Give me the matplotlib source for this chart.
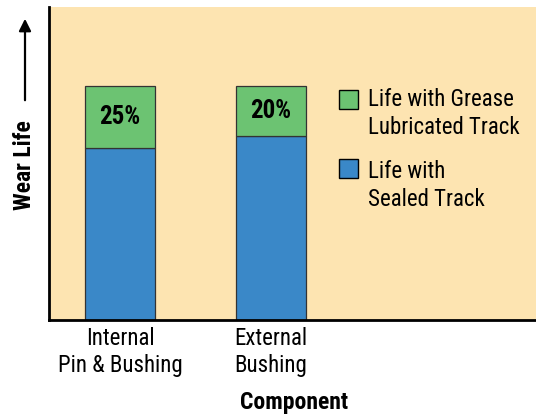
import numpy as np
import matplotlib.pyplot as plt

# bar data (relative wear life, total of first bar = 100)
components = ["Internal\nPin & Bushing", "External\nBushing"]
sealed_life = [73.5, 78.6]
grease_extra = [26.5, 21.4]
pct_labels = ["25%", "20%"]
legend_labels = ["Life with Grease\nLubricated Track", "Life with\nSealed Track"]

bg = "#fde4b1"
green = "#6cc372"
blue = "#3a88c8"
plt.rcParams['font.family'] = ["Roboto Condensed", "Roboto", "DejaVu Sans"]

fig = plt.figure(figsize=(5.36, 4.18), dpi=100)
ax = fig.add_axes([49 / 536, 98 / 418, 1 - 49 / 536, 313 / 418])
ax.set_facecolor(bg)

x = np.array([0, 1])
w = 70 / 151
ax.bar(x, sealed_life, width=w, color=blue, edgecolor="#333333", linewidth=0.9)
ax.bar(x, grease_extra, width=w, bottom=sealed_life, color=green,
       edgecolor="#333333", linewidth=0.9)

for xi, s, g, lab in zip(x, sealed_life, grease_extra, pct_labels):
    ax.text(xi, s + g / 2, lab, ha="center", va="center", fontsize=18,
            fontweight="bold")

# x range: left spine at pixel 49, first bar centre at 120, spacing 151
ax.set_xlim(-71 / 151, (536 - 120) / 151)
ax.set_ylim(0, 100 * 313 / 234)
ax.set_xticks(x)
ax.set_xticklabels(components, fontsize=16.5, linespacing=1.22)
ax.tick_params(axis="x", length=0, pad=5)
ax.set_yticks([])
for sp in ["top", "right"]:
    ax.spines[sp].set_visible(False)
for sp in ["left", "bottom"]:
    ax.spines[sp].set_linewidth(2)

# legend drawn by hand to mimic the boxed swatches
# (swatch centre, text top) in pixels from the top
for (ypix, ytxt), col, lab in [((99, 88), green, legend_labels[0]),
                               ((168, 160), blue, legend_labels[1])]:
    fig.patches.append(plt.Rectangle((339 / 536, 1 - (ypix + 9.5) / 418),
                                     19 / 536, 19 / 418,
                                     transform=fig.transFigure, facecolor=col,
                                     edgecolor="black", linewidth=1))
    fig.text(368 / 536, 1 - ytxt / 418, lab, ha="left", va="top", fontsize=16.5,
             linespacing=1.25)

fig.text(294 / 536, 1 - 403 / 418, "Component", ha="center", va="center",
         fontsize=17, fontweight="bold")
fig.text(25 / 536, 1 - 165 / 418, "Wear Life", ha="center", va="center",
         rotation=90, fontsize=17, fontweight="bold")
ax.annotate("", xy=(25 / 536, 1 - 16 / 418), xytext=(25 / 536, 1 - 103 / 418),
            xycoords="figure fraction", textcoords="figure fraction",
            arrowprops=dict(arrowstyle="-|>", color="black", lw=1.6,
                            mutation_scale=18))

fig.savefig("out.png", dpi=100)
